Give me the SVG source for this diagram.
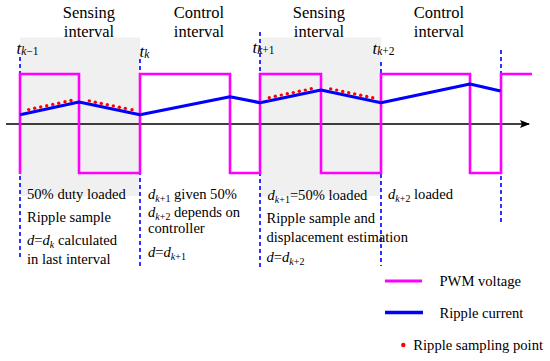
<svg xmlns="http://www.w3.org/2000/svg" width="550" height="361" viewBox="0 0 550 361">
<style>
.t{font-family:"Liberation Serif","Times New Roman",serif;font-size:14.6px;fill:#000}
.h{font-family:"Liberation Serif","Times New Roman",serif;font-size:16.5px;fill:#000;text-anchor:middle}
.i{font-style:italic}
.s{font-size:10px}
.ts{font-size:11.5px}
.gray{fill:#f0f0f0}
.pwm{fill:none;stroke:#ff00ff;stroke-width:2.6}
.cur{fill:none;stroke:#0000ff;stroke-width:3.2;stroke-linejoin:round}
.dash{stroke:#0000ff;stroke-width:1.6;stroke-dasharray:4 3}
.dot{fill:#ff0000}
</style>
<defs>
<marker id="arr" viewBox="0 0 10 10" refX="9" refY="5" markerWidth="10" markerHeight="10" markerUnits="userSpaceOnUse" orient="auto">
<path d="M0,1 L10,5 L0,9 L2,5 Z" fill="#000"/>
</marker>
</defs>
<rect width="550" height="361" fill="#fff"/>
<g id="intervals">
<rect class="gray" x="20" y="37.5" width="120" height="158.5"/>
<rect class="gray" x="260" y="37.5" width="121" height="158.5"/>
</g>
<g id="headings">
<text class="h" x="89" y="18.3">Sensing</text>
<text class="h" x="89" y="36.7">interval</text>
<text class="h" x="199" y="18.3">Control</text>
<text class="h" x="199" y="36.7">interval</text>
<text class="h" x="319" y="18.3">Sensing</text>
<text class="h" x="319" y="37">interval</text>
<text class="h" x="439" y="18.3">Control</text>
<text class="h" x="439" y="37">interval</text>
</g>
<g id="connectors">
<line class="dash" x1="20" y1="57" x2="20" y2="257"/>
<line class="dash" x1="140" y1="59" x2="140" y2="267"/>
<line class="dash" x1="260" y1="32" x2="260" y2="268"/>
<line class="dash" x1="381" y1="62" x2="381" y2="266"/>
<line class="dash" x1="501" y1="50" x2="501" y2="225"/>
<line x1="6" y1="124" x2="529" y2="124" stroke="#000" stroke-width="1.6" marker-end="url(#arr)"/>
</g>
<g id="time-labels">
<text class="t" style="font-size:17px" x="16.5" y="54"><tspan class="i">t</tspan><tspan class="ts" dy="1"><tspan class="i">k</tspan>−1</tspan></text>
<text class="t" style="font-size:17px" x="139.5" y="57"><tspan class="i">t</tspan><tspan class="ts i" dy="1">k</tspan></text>
<text class="t" style="font-size:17px" x="252.5" y="53.3"><tspan class="i">t</tspan><tspan class="ts" dy="1"><tspan class="i">k</tspan>+1</tspan></text>
<text class="t" style="font-size:17px" x="372.5" y="54.3"><tspan class="i">t</tspan><tspan class="ts" dy="1"><tspan class="i">k</tspan>+2</tspan></text>
</g>
<g id="pwm-voltage">
<path class="pwm" d="M20,174 V74 H79 V173 H140 V74 H230 V173 H260 V74 H321 V173 H381 V74 H470 V173 H501 V74 H532"/>
</g>
<g id="ripple-current">
<polyline class="cur" points="20,114.7 79,102 140,114.7 230,96.7 260,102.7 321,90 381,102.7 470,84 500.5,91"/>
</g>
<g id="sampling-points">
<circle class="dot" cx="28.7" cy="109.6" r="1.7"/>
<circle class="dot" cx="34.7" cy="108.3" r="1.7"/>
<circle class="dot" cx="40.7" cy="107" r="1.7"/>
<circle class="dot" cx="46.7" cy="105.7" r="1.7"/>
<circle class="dot" cx="52.7" cy="104.4" r="1.7"/>
<circle class="dot" cx="58.7" cy="103.2" r="1.7"/>
<circle class="dot" cx="65" cy="101.8" r="1.7"/>
<circle class="dot" cx="71" cy="100.5" r="1.7"/>
<circle class="dot" cx="89.3" cy="100.9" r="1.7"/>
<circle class="dot" cx="95.3" cy="102.2" r="1.7"/>
<circle class="dot" cx="101.3" cy="103.4" r="1.7"/>
<circle class="dot" cx="107.3" cy="104.7" r="1.7"/>
<circle class="dot" cx="113.3" cy="105.9" r="1.7"/>
<circle class="dot" cx="119.3" cy="107.2" r="1.7"/>
<circle class="dot" cx="125.3" cy="108.4" r="1.7"/>
<circle class="dot" cx="132" cy="109.8" r="1.7"/>
<circle class="dot" cx="269.3" cy="97.6" r="1.7"/>
<circle class="dot" cx="275.3" cy="96.3" r="1.7"/>
<circle class="dot" cx="281.3" cy="95.1" r="1.7"/>
<circle class="dot" cx="287.3" cy="93.8" r="1.7"/>
<circle class="dot" cx="293.3" cy="92.6" r="1.7"/>
<circle class="dot" cx="299.3" cy="91.3" r="1.7"/>
<circle class="dot" cx="305.3" cy="90.1" r="1.7"/>
<circle class="dot" cx="311.3" cy="88.8" r="1.7"/>
<circle class="dot" cx="330.7" cy="88.9" r="1.7"/>
<circle class="dot" cx="336.7" cy="90.1" r="1.7"/>
<circle class="dot" cx="342.7" cy="91.4" r="1.7"/>
<circle class="dot" cx="348.7" cy="92.7" r="1.7"/>
<circle class="dot" cx="354.7" cy="93.9" r="1.7"/>
<circle class="dot" cx="360.7" cy="95.2" r="1.7"/>
<circle class="dot" cx="366.7" cy="96.5" r="1.7"/>
<circle class="dot" cx="372.7" cy="97.7" r="1.7"/>
</g>
<g id="notes-sensing-1">
<text class="t" x="27" y="198.5">50% duty loaded</text>
<text class="t" x="27" y="221.5">Ripple sample</text>
<text class="t" x="27" y="245"><tspan class="i">d</tspan>=<tspan class="i">d</tspan><tspan class="s i" dy="3">k</tspan><tspan dy="-3"> calculated</tspan></text>
<text class="t" x="27" y="263.5">in last interval</text>
</g>
<g id="notes-control-1">
<text class="t" x="148" y="198.5"><tspan class="i">d</tspan><tspan class="s" dy="3"><tspan class="i">k</tspan>+1</tspan><tspan dy="-3"> given 50%</tspan></text>
<text class="t" x="148" y="216.5"><tspan class="i">d</tspan><tspan class="s" dy="3"><tspan class="i">k</tspan>+2</tspan><tspan dy="-3"> depends on</tspan></text>
<text class="t" x="148" y="233">controller</text>
<text class="t" x="148" y="257"><tspan class="i">d</tspan>=<tspan class="i">d</tspan><tspan class="s" dy="3"><tspan class="i">k</tspan>+1</tspan></text>
</g>
<g id="notes-sensing-2">
<text class="t" x="267.5" y="200"><tspan class="i">d</tspan><tspan class="s" dy="3"><tspan class="i">k</tspan>+1</tspan><tspan dy="-3">=50% loaded</tspan></text>
<text class="t" x="266.5" y="223.3">Ripple sample and</text>
<text class="t" x="266.5" y="241.7">displacement estimation</text>
<text class="t" x="266.5" y="261.7"><tspan class="i">d</tspan>=<tspan class="i">d</tspan><tspan class="s" dy="3"><tspan class="i">k</tspan>+2</tspan></text>
</g>
<g id="notes-control-2">
<text class="t" x="388" y="199.3"><tspan class="i">d</tspan><tspan class="s" dy="3"><tspan class="i">k</tspan>+2</tspan><tspan dy="-3"> loaded</tspan></text>
</g>
<g id="legend">
<line x1="385" y1="281" x2="422" y2="281" stroke="#ff00ff" stroke-width="3"/>
<text class="t" x="439.5" y="285.5">PWM voltage</text>
<line x1="385" y1="312.5" x2="423" y2="312.5" stroke="#0000ff" stroke-width="3.5"/>
<text class="t" x="439.5" y="317.5">Ripple current</text>
<circle class="dot" cx="403.3" cy="345" r="2.2"/>
<text class="t" x="413.3" y="350">Ripple sampling point</text>
</g>
</svg>
